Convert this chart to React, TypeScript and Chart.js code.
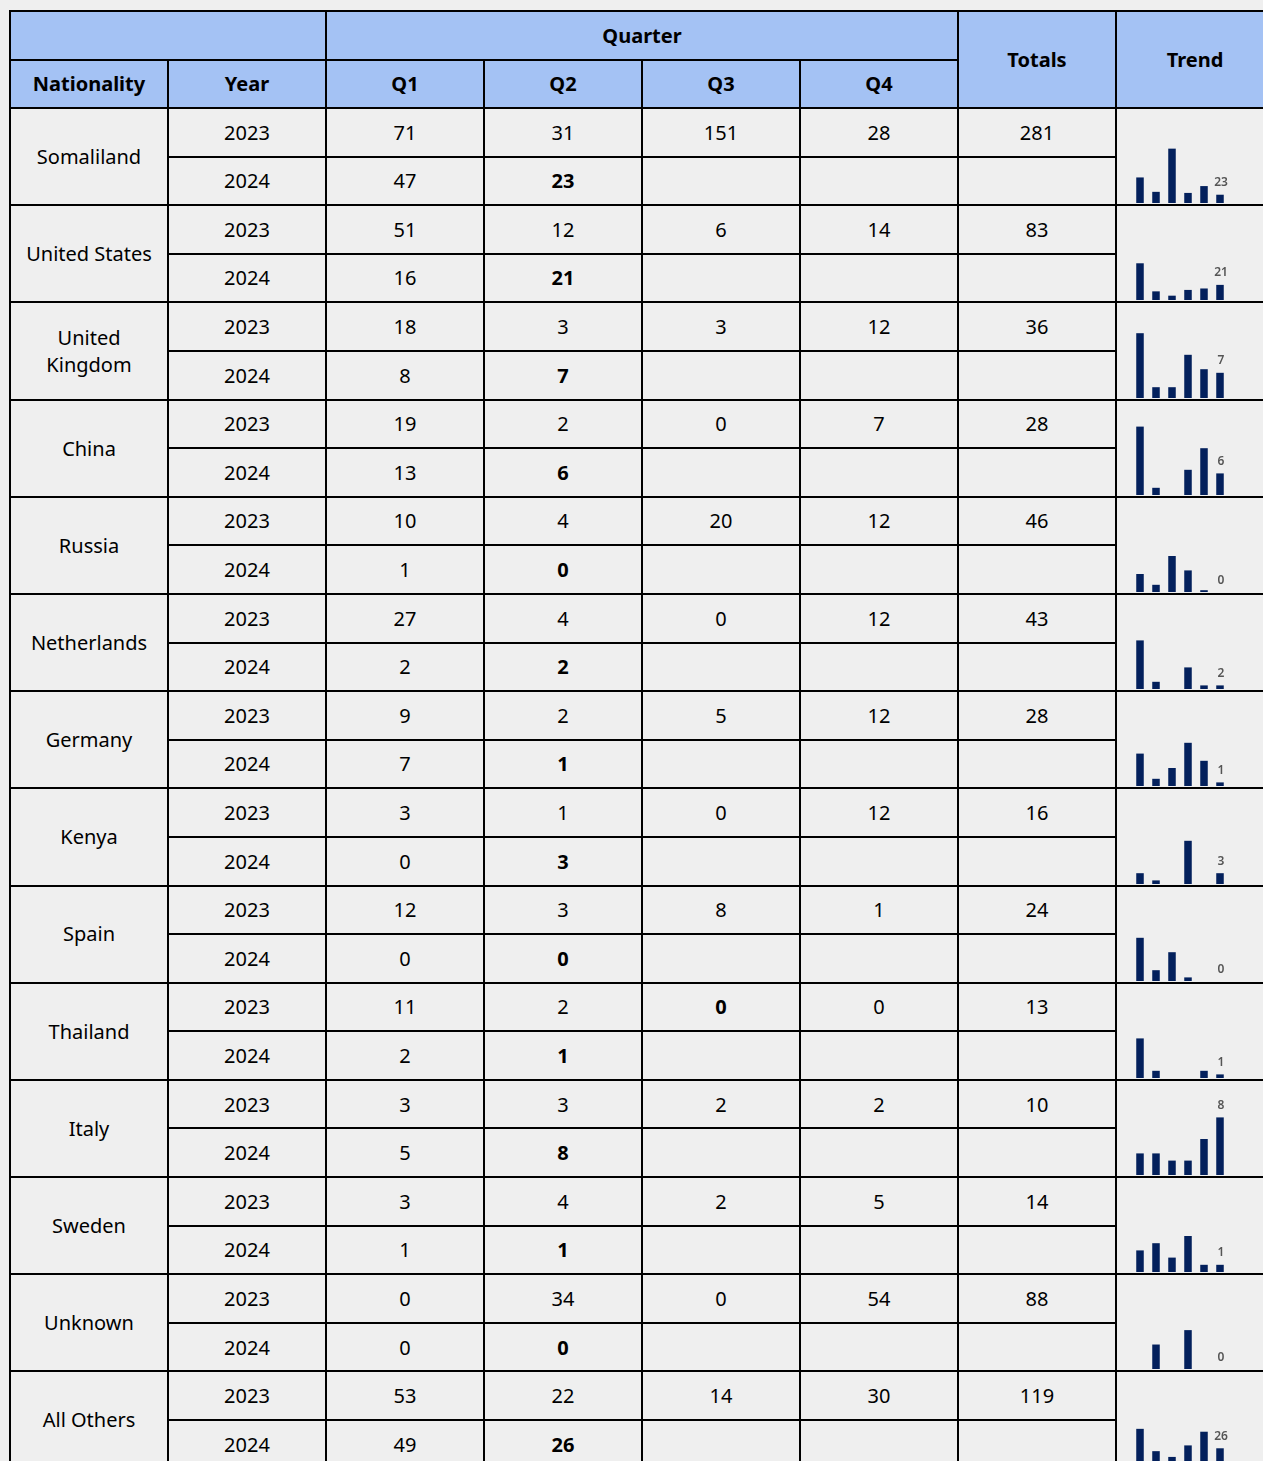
import React, { useEffect, useRef } from 'react';
import { Chart, registerables } from 'chart.js';

Chart.register(...registerables);

// ---- data ----
const nationalities = [
  'Somaliland', 'United States', 'United Kingdom', 'China', 'Russia', 'Netherlands', 'Germany',
  'Kenya', 'Spain', 'Thailand', 'Italy', 'Sweden', 'Unknown', 'All Others',
];
const years = ['2023', '2024'];
const quarters = ['Q1', 'Q2', 'Q3', 'Q4'];
const q1_2023 = [71, 51, 18, 19, 10, 27, 9, 3, 12, 11, 3, 3, 0, 53];
const q2_2023 = [31, 12, 3, 2, 4, 4, 2, 1, 3, 2, 3, 4, 34, 22];
const q3_2023 = [151, 6, 3, 0, 20, 0, 5, 0, 8, 0, 2, 2, 0, 14];
const q4_2023 = [28, 14, 12, 7, 12, 12, 12, 12, 1, 0, 2, 5, 54, 30];
const totals_2023 = [281, 83, 36, 28, 46, 43, 28, 16, 24, 13, 10, 14, 88, 119];
const q1_2024 = [47, 16, 8, 13, 1, 2, 7, 0, 0, 2, 5, 1, 0, 49];
const q2_2024 = [23, 21, 7, 6, 0, 2, 1, 3, 0, 1, 8, 1, 0, 26];
const trendLabels = ['Q1 2023', 'Q2 2023', 'Q3 2023', 'Q4 2023', 'Q1 2024', 'Q2 2024'];
const boldCells = [{ nationality: 'Thailand', year: '2023', quarter: 'Q3' }];

// ---- styles ----
const FONT = '"Noto Sans", "Open Sans", sans-serif';
const HEADER_BG = '#a4c2f4';
const CELL_BG = '#efefef';
const BAR_COLOR = '#03205c';
const COL_W = 156;
const GAP = 2;

const lastLabelPlugin = {
  id: 'lastLabel',
  afterDatasetsDraw(chart: any) {
    const meta = chart.getDatasetMeta(0);
    const i = meta.data.length - 1;
    const el = meta.data[i];
    const v = chart.data.datasets[0].data[i];
    const ctx = chart.ctx;
    ctx.save();
    ctx.font = '600 12px "Noto Sans", sans-serif';
    ctx.fillStyle = '#555555';
    ctx.textAlign = 'center';
    ctx.textBaseline = 'alphabetic';
    ctx.fillText(String(v), el.x + 1, el.y - 8.5);
    ctx.restore();
  },
};

function Spark({ values }: { values: number[] }) {
  const ref = useRef<HTMLCanvasElement | null>(null);
  useEffect(() => {
    if (!ref.current) return;
    const chart = new Chart(ref.current, {
      type: 'bar',
      data: {
        labels: trendLabels,
        datasets: [
          {
            data: values,
            backgroundColor: BAR_COLOR,
            barPercentage: 0.47,
            categoryPercentage: 1,
          },
        ],
      },
      options: {
        animation: false,
        responsive: false,
        events: [],
        layout: { padding: { top: 18, left: 0, right: 4, bottom: 0 } },
        plugins: { legend: { display: false }, tooltip: { enabled: false } },
        scales: {
          x: { display: false },
          y: { display: false, beginAtZero: true, grace: '5%', ticks: { maxTicksLimit: 3 } },
        },
      } as any,
      plugins: [lastLabelPlugin],
    });
    return () => chart.destroy();
  }, [values]);
  return (
    <canvas
      ref={ref}
      width={100}
      height={90}
      style={{ position: 'absolute', left: 15, bottom: 1, width: 100, height: 90 }}
    />
  );
}

function Cell(props: {
  row: string;
  col: string;
  header?: boolean;
  bold?: boolean;
  children?: React.ReactNode;
  relative?: boolean;
}) {
  return (
    <div
      style={{
        gridRow: props.row,
        gridColumn: props.col,
        background: props.header ? HEADER_BG : CELL_BG,
        display: 'flex',
        alignItems: 'center',
        justifyContent: 'center',
        textAlign: 'center',
        fontWeight: props.header || props.bold ? 700 : 400,
        padding: '0 10px',
        position: props.relative ? 'relative' : undefined,
        overflow: 'hidden',
      }}
    >
      {props.children}
    </div>
  );
}

export default function App() {
  const cells: React.ReactNode[] = [];
  // header rows
  cells.push(<Cell key="h-blank" row="1" col="1 / span 2" header />);
  cells.push(<Cell key="h-quarter" row="1" col="3 / span 4" header>Quarter</Cell>);
  cells.push(<Cell key="h-totals" row="1 / span 2" col="7" header>Totals</Cell>);
  cells.push(<Cell key="h-trend" row="1 / span 2" col="8" header>Trend</Cell>);
  cells.push(<Cell key="h-nat" row="2" col="1" header>Nationality</Cell>);
  cells.push(<Cell key="h-year" row="2" col="2" header>Year</Cell>);
  quarters.forEach((q, qi) => {
    cells.push(<Cell key={'h-' + q} row="2" col={String(3 + qi)} header>{q}</Cell>);
  });

  nationalities.forEach((nat, i) => {
    const r = 3 + i * 2;
    const vals2023 = [q1_2023[i], q2_2023[i], q3_2023[i], q4_2023[i]];
    const vals2024 = [q1_2024[i], q2_2024[i]];
    cells.push(<Cell key={nat + '-n'} row={`${r} / span 2`} col="1">{nat}</Cell>);
    years.forEach((y, yi) => {
      const rr = String(r + yi);
      cells.push(<Cell key={nat + y + 'y'} row={rr} col="2">{y}</Cell>);
      quarters.forEach((q, qi) => {
        const v = yi === 0 ? vals2023[qi] : vals2024[qi];
        const isBold =
          (yi === 1 && q === 'Q2') ||
          boldCells.some((b) => b.nationality === nat && b.year === y && b.quarter === q);
        cells.push(
          <Cell key={nat + y + q} row={rr} col={String(3 + qi)} bold={isBold}>
            {v === undefined ? '' : String(v)}
          </Cell>
        );
      });
      cells.push(
        <Cell key={nat + y + 't'} row={rr} col="7">
          {yi === 0 ? String(totals_2023[i]) : ''}
        </Cell>
      );
    });
    const trend = [...vals2023, ...vals2024];
    cells.push(
      <Cell key={nat + '-trend'} row={`${r} / span 2`} col="8" relative>
        <Spark values={trend} />
      </Cell>
    );
  });

  return (
    <div
      style={{
        position: 'fixed',
        left: 0,
        top: 0,
        width: '100vw',
        height: '100vh',
        overflow: 'hidden',
        background: CELL_BG,
      }}
    >
      <div
        style={{
          position: 'absolute',
          left: 9,
          top: 10,
          display: 'grid',
          gridTemplateColumns: `repeat(8, ${COL_W}px)`,
          gridTemplateRows: '47px 46px repeat(28, 46.6px)',
          gap: GAP,
          padding: GAP,
          background: '#000',
          fontFamily: FONT,
          fontSize: 20,
          color: '#000',
          lineHeight: 1.362,
        }}
      >
        {cells}
      </div>
    </div>
  );
}
